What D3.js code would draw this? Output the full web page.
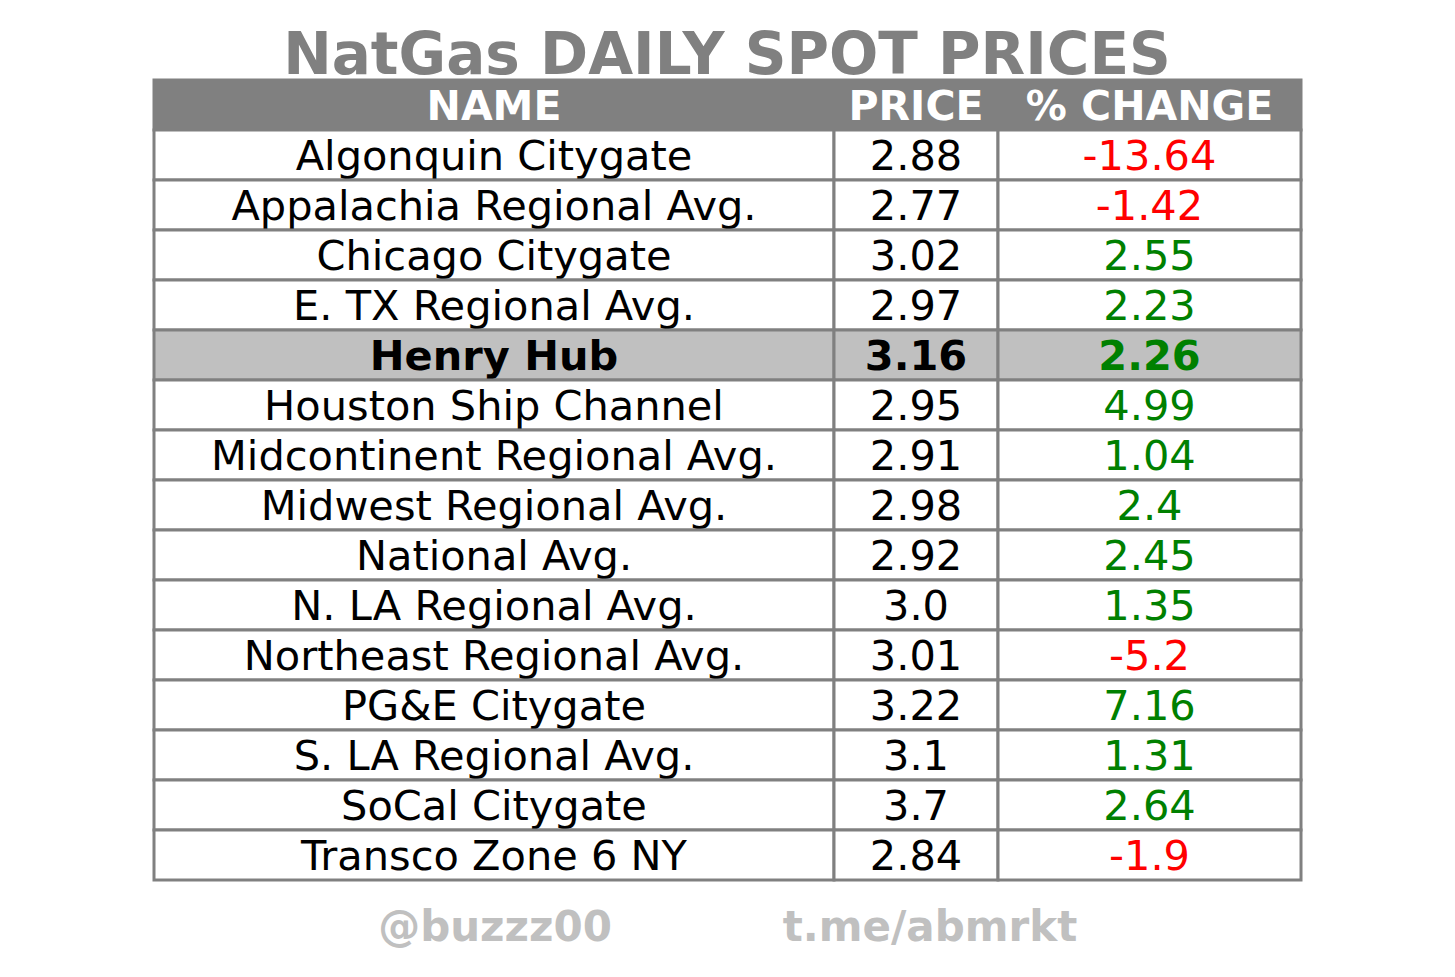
<!DOCTYPE html>
<html>
<head>
<meta charset="utf-8">
<script src="https://cdn.jsdelivr.net/npm/d3@7"></script>
<style>
  body { margin: 0; background: #fff; }
  text { font-family: "DejaVu Sans", sans-serif; }
</style>
</head>
<body>
<svg id="chart" width="1455" height="977"></svg>
<script>
var names = ['Algonquin Citygate', 'Appalachia Regional Avg.', 'Chicago Citygate', 'E. TX Regional Avg.',
  'Henry Hub', 'Houston Ship Channel', 'Midcontinent Regional Avg.', 'Midwest Regional Avg.',
  'National Avg.', 'N. LA Regional Avg.', 'Northeast Regional Avg.', 'PG&E Citygate',
  'S. LA Regional Avg.', 'SoCal Citygate', 'Transco Zone 6 NY'];
var prices = ['2.88', '2.77', '3.02', '2.97', '3.16', '2.95', '2.91', '2.98', '2.92', '3.0', '3.01', '3.22', '3.1', '3.7', '2.84'];
var changes = ['-13.64', '-1.42', '2.55', '2.23', '2.26', '4.99', '1.04', '2.4', '2.45', '1.35', '-5.2', '7.16', '1.31', '2.64', '-1.9'];
var headers = ['NAME', 'PRICE', '% CHANGE'];
var highlight = 'Henry Hub';

var svg = d3.select('#chart');
var colEdges = [154, 834, 998, 1301];
var grey = '#808080';

var y = d3.scaleBand().domain(d3.range(names.length)).range([130, 880]).paddingInner(0);

svg.append('text')
    .attr('x', 727).attr('y', 74)
    .attr('text-anchor', 'middle')
    .style('font-size', '58px').style('font-weight', 'bold')
    .style('fill', grey)
    .text('NatGas DAILY SPOT PRICES');

// header
svg.append('rect')
    .attr('x', colEdges[0]).attr('y', 80)
    .attr('width', colEdges[3] - colEdges[0]).attr('height', 50)
    .style('fill', grey).style('stroke', grey).style('stroke-width', 3);
headers.forEach(function(h, i) {
  svg.append('text')
      .attr('x', (colEdges[i] + colEdges[i + 1]) / 2).attr('y', 105)
      .attr('dy', '0.36em').attr('text-anchor', 'middle')
      .style('font-size', '41px').style('font-weight', 'bold').style('fill', '#fff')
      .text(h);
});

var rows = svg.selectAll('g.row').data(names).enter().append('g').attr('class', 'row');

rows.each(function(name, r) {
  var g = d3.select(this);
  var bold = name === highlight;
  var cells = [name, prices[r], changes[r]];
  cells.forEach(function(v, c) {
    g.append('rect')
        .attr('x', colEdges[c]).attr('y', y(r))
        .attr('width', colEdges[c + 1] - colEdges[c]).attr('height', y.bandwidth())
        .style('fill', bold ? '#c0c0c0' : '#fff')
        .style('stroke', grey).style('stroke-width', 3);
    var fill = '#000';
    if (c === 2) fill = +v < 0 ? '#ff0000' : '#008000';
    g.append('text')
        .attr('x', (colEdges[c] + colEdges[c + 1]) / 2).attr('y', y(r) + y.bandwidth() / 2)
        .attr('dy', '0.36em').attr('text-anchor', 'middle')
        .style('font-size', '41.5px').style('font-weight', bold ? 'bold' : 'normal')
        .style('fill', fill)
        .text(v);
  });
});

[['@buzzz00', 495], ['t.me/abmrkt', 930]].forEach(function(f) {
  svg.append('text')
      .attr('x', f[1]).attr('y', 926)
      .attr('dy', '0.36em').attr('text-anchor', 'middle')
      .style('font-size', '42px').style('font-weight', 'bold').style('fill', '#c0c0c0')
      .text(f[0]);
});
</script>
</body>
</html>
